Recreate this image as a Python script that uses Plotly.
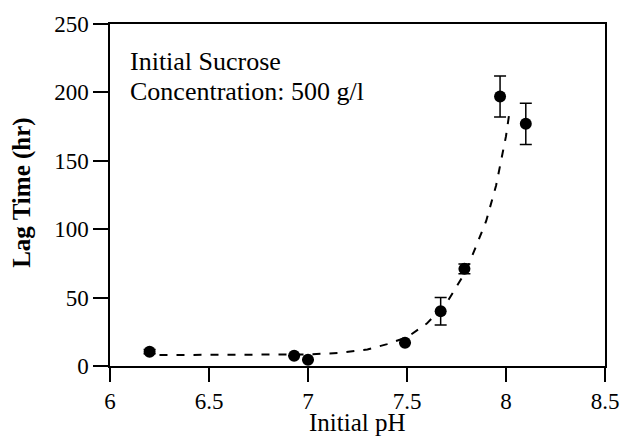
import plotly.graph_objects as go

# Measured data points
ph = [6.2, 6.93, 7.0, 7.49, 7.67, 7.79, 7.97, 8.1]
lag = [10.5, 7.5, 4.5, 17, 40, 71, 197, 177]
err = [1.5, 0, 0, 0, 10, 3.5, 15, 15]

# Dashed fitted curve
fit_ph = [6.25, 6.5, 6.75, 7.0, 7.15, 7.3, 7.4, 7.5, 7.6, 7.7, 7.8, 7.9, 7.95, 8.0, 8.02]
fit_lag = [8, 8, 8, 8.5, 9.5, 12, 16, 21, 31, 46, 70, 106, 132, 168, 188]

x_ticks = [6, 6.5, 7, 7.5, 8, 8.5]
x_ticklabels = ["6", "6.5", "7", "7.5", "8", "8.5"]
y_ticks = [0, 50, 100, 150, 200, 250]

FONT = "Liberation Serif, Times New Roman, serif"

fig = go.Figure()
fig.add_trace(go.Scatter(
    x=fit_ph, y=fit_lag, mode="lines",
    line=dict(color="black", width=2, dash="8px,9px"),
    hoverinfo="skip", showlegend=False,
))
fig.add_trace(go.Scatter(
    x=ph, y=lag, mode="markers",
    marker=dict(color="black", size=12),
    error_y=dict(type="data", array=err, visible=True, color="black",
                 thickness=1.5, width=6),
    cliponaxis=False, showlegend=False,
))

fig.update_layout(
    width=631, height=442,
    margin=dict(l=110, r=22, t=18, b=76),
    paper_bgcolor="white", plot_bgcolor="white",
    font=dict(family=FONT, size=22, color="black"),
    xaxis=dict(
        range=[6, 8.5], tickvals=x_ticks, ticktext=x_ticklabels,
        showline=True, linecolor="black", linewidth=1.5, mirror=True,
        ticks="outside", ticklen=14, tickwidth=1.5, tickcolor="black",
        showgrid=False, zeroline=False,
        tickfont=dict(family=FONT, size=23),
    ),
    yaxis=dict(
        range=[0, 250], tickvals=y_ticks,
        showline=True, linecolor="black", linewidth=1.5, mirror=True,
        ticks="outside", ticklen=15, tickwidth=1.5, tickcolor="black",
        showgrid=False, zeroline=False,
        tickfont=dict(family=FONT, size=23),
    ),
    annotations=[
        dict(text="Initial Sucrose",
             xref="paper", yref="paper", x=0.036, y=0.89,
             xanchor="left", yanchor="middle", align="left", showarrow=False,
             font=dict(family=FONT, size=26, color="black")),
        dict(text="Concentration: 500 g/l",
             xref="paper", yref="paper", x=0.036, y=0.803,
             xanchor="left", yanchor="middle", align="left", showarrow=False,
             font=dict(family=FONT, size=26, color="black")),
        dict(text="Initial pH",
             xref="paper", yref="paper", x=0.501, y=-0.166,
             xanchor="center", yanchor="middle", showarrow=False,
             font=dict(family=FONT, size=25, color="black")),
        dict(text="<b>Lag Time (hr)</b>", textangle=-90,
             xref="paper", yref="paper", x=-0.178, y=0.506,
             xanchor="center", yanchor="middle", showarrow=False,
             font=dict(family=FONT, size=25, color="black")),
    ],
)

fig.write_html("out.html")
